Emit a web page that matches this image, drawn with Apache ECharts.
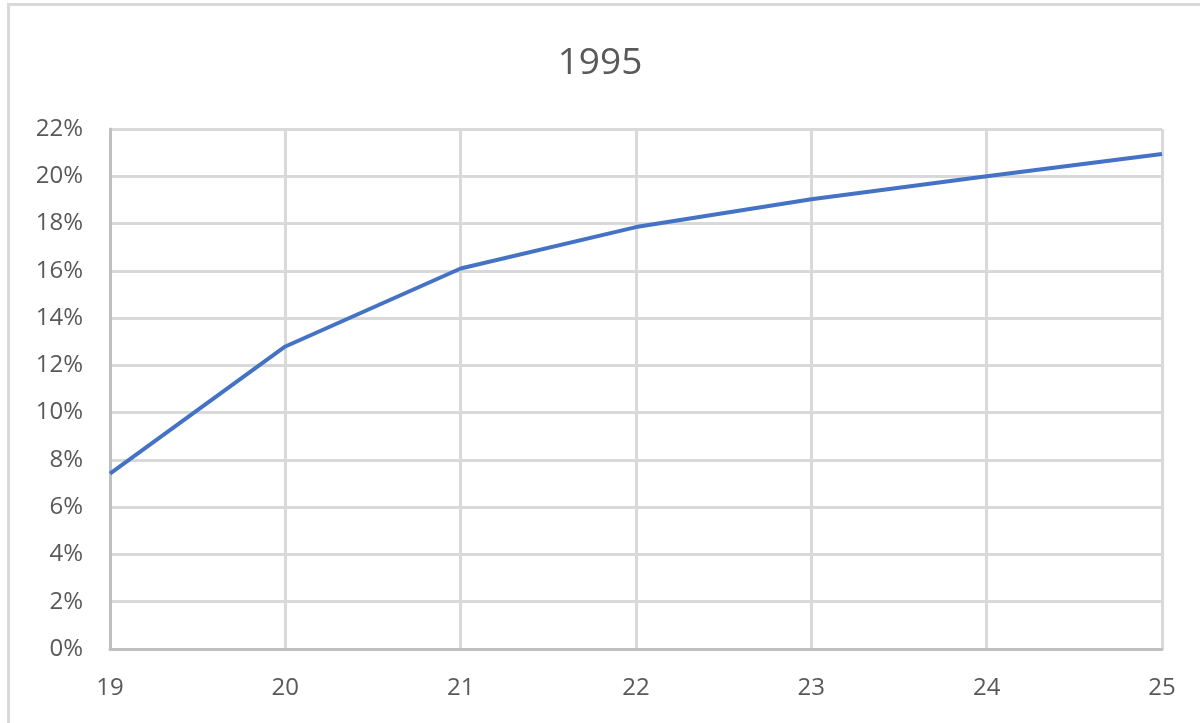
<!DOCTYPE html>
<html><head><meta charset="utf-8">
<script src="https://cdn.jsdelivr.net/npm/echarts@6/dist/echarts.min.js"></script>
<style>html,body{margin:0;padding:0;background:#fff}#c{width:1200px;height:723px}</style>
</head><body><div id="c"></div>
<script>
const title = "1995";
const categories = ["19", "20", "21", "22", "23", "24", "25"];
const values = [7.42, 12.8, 16.1, 17.85, 19.03, 20.0, 20.94];
const yTicks = [0, 2, 4, 6, 8, 10, 12, 14, 16, 18, 20, 22];

const chart = echarts.init(document.getElementById('c'));
chart.setOption({
  animation: false,
  backgroundColor: '#fff',
  graphic: [{type: 'rect', shape: {x: 8.5, y: 4.5, width: 1200, height: 730}, style: {fill: 'none', stroke: '#d9d9d9', lineWidth: 3}, silent: true}],
  title: {text: title, left: 'center', top: 40, textStyle: {fontFamily: 'Open Sans', fontSize: 37, fontWeight: 'normal', color: '#595959'}},
  grid: {left: 110, right: 38, top: 129, bottom: 74, containLabel: false},
  xAxis: {
    type: 'category', data: categories, boundaryGap: false,
    axisLine: {lineStyle: {color: '#bfbfbf', width: 3}},
    axisTick: {show: false},
    splitLine: {show: true, lineStyle: {color: '#d9d9d9', width: 3}},
    axisLabel: {fontFamily: 'Open Sans', fontSize: 24, color: '#595959', margin: 27}
  },
  yAxis: {
    type: 'value', min: yTicks[0], max: yTicks[yTicks.length - 1], interval: 2,
    axisLine: {show: true, lineStyle: {color: '#bfbfbf', width: 3}},
    axisTick: {show: false},
    splitLine: {lineStyle: {color: '#d9d9d9', width: 3}},
    axisLabel: {fontFamily: 'Open Sans', fontSize: 24, color: '#595959', margin: 27, formatter: v => v + '%'}
  },
  series: [{type: 'line', data: values, symbol: 'none', lineStyle: {color: '#4472c4', width: 4}, itemStyle: {color: '#4472c4'}}]
});
</script></body></html>
